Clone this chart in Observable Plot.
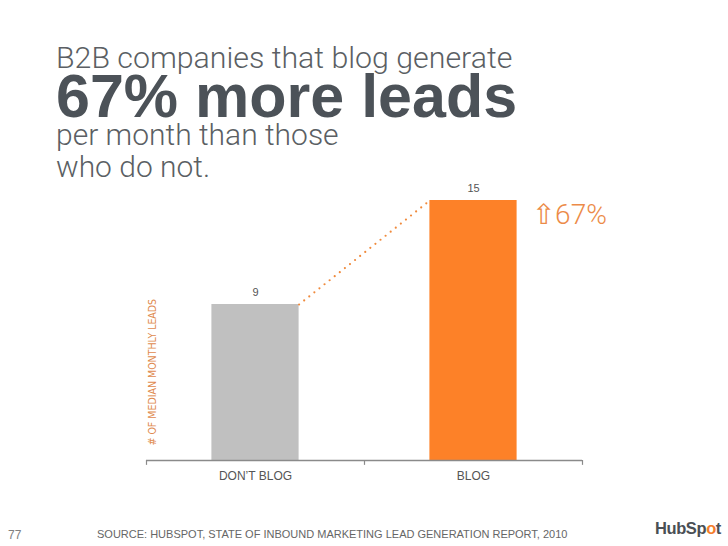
<!DOCTYPE html>
<html>
<head>
<meta charset="utf-8">
<script src="https://cdn.jsdelivr.net/npm/d3@7"></script>
<script src="https://cdn.jsdelivr.net/npm/@observablehq/plot@0.6"></script>
<style>
  html, body { margin: 0; padding: 0; background: #fff; }
  #slide { position: relative; width: 728px; height: 546px; overflow: hidden; font-family: Roboto, "Liberation Sans", sans-serif; }
  .t { position: absolute; left: 56px; white-space: nowrap; color: #5b5f64; }
  #l1 { top: 43.5px; font-size: 30.3px; line-height: 28px; font-weight: 300; }
  #l2 { top: 75.5px; font-size: 61px; line-height: 40px; font-weight: 700; color: #4c5258; font-family: "Liberation Sans", Arial, sans-serif; }
  #l3 { top: 119px; font-size: 30px; font-weight: 300; line-height: 32px; }
  #chart { position: absolute; left: 0; top: 170px; }
  #num { position: absolute; left: 8px; top: 528px; font-size: 12px; color: #808080; font-family: "Liberation Sans", sans-serif; }
  #src { position: absolute; left: 97px; top: 528px; font-size: 11px; color: #666; font-family: "Liberation Sans", sans-serif; }
  #logo { position: absolute; left: 655px; top: 519px; font-size: 16.5px; font-weight: 700; color: #4a4f55; font-family: "Liberation Sans", sans-serif; letter-spacing: -0.4px; }
  #logo span { color: #f57e2c; }
</style>
</head>
<body>
<div id="slide">
  <div class="t" id="l1">B2B companies that blog generate</div>
  <div class="t" id="l2">67% more leads</div>
  <div class="t" id="l3">per month than those<br>who do not.</div>
  <div id="chart"></div>
  <div id="num">77</div>
  <div id="src">SOURCE: HUBSPOT, STATE OF INBOUND MARKETING LEAD GENERATION REPORT, 2010</div>
  <div id="logo">HubSp<span>o</span>t</div>
</div>
<script>
const categories = ["DON\u2019T BLOG", "BLOG"];
const leads = [9, 15];
const barColors = ["#c0c0c0", "#fd8128"];
const yLabel = "# OF MEDIAN MONTHLY LEADS";
const increase = "\u21E767%";

const data = categories.map((c, i) => ({cat: c, i, value: leads[i], color: barColors[i]}));
const inset = 0.3; // fraction of each category slot left empty on each side
const connector = [
  {x: 0 + 1 - inset, y: leads[0]},
  {x: 1 + inset, y: leads[1]}
];
const ticks = [0, 1, 2];

const chart = Plot.plot({
  width: 728,
  height: 330,
  marginLeft: 146,
  marginRight: 146,
  marginTop: 30,
  marginBottom: 40,
  x: {domain: [0, 2], axis: null},
  y: {domain: [0, 15], axis: null},
  style: {fontFamily: "Liberation Sans, Arial, sans-serif", overflow: "visible"},
  marks: [
    Plot.rectY(data, {x1: d => d.i + inset, x2: d => d.i + 1 - inset, y1: 0, y2: "value", fill: "color"}),
    Plot.line(connector, {x: "x", y: "y", stroke: "#f08a3c", strokeWidth: 2.2, strokeDasharray: "0 6.5", strokeLinecap: "round"}),
    Plot.text(data, {x: d => d.i + 0.5, y: "value", text: d => String(d.value), dy: -12, fontSize: 11, fill: "#555"}),
    Plot.ruleY([0], {stroke: "#8a8a8a", strokeWidth: 1.5}),
    Plot.ruleX(ticks, {x: d => d, y1: 0, y2: -0.28, stroke: "#8a8a8a", strokeWidth: 1.2}),
    Plot.text(data, {x: d => d.i + 0.5, y: 0, text: "cat", dy: 16, fontSize: 12, fill: "#555"}),
    Plot.text([increase], {x: 2 - inset, y: leads[1], text: d => d, textAnchor: "start", dx: 15, dy: 15, fontSize: 28, fill: "#ec8b48", fontFamily: "Roboto, DejaVu Sans, sans-serif", fontWeight: 300}),
    Plot.text([yLabel], {frameAnchor: "bottom-left", text: d => d, rotate: -90, textAnchor: "start", dx: 9, dy: -15, fontSize: 10.5, fill: "#e08a4e", fontFamily: "Liberation Sans Narrow, DejaVu Sans Condensed, sans-serif"})
  ]
});
document.getElementById("chart").appendChild(chart);
</script>
</body>
</html>
